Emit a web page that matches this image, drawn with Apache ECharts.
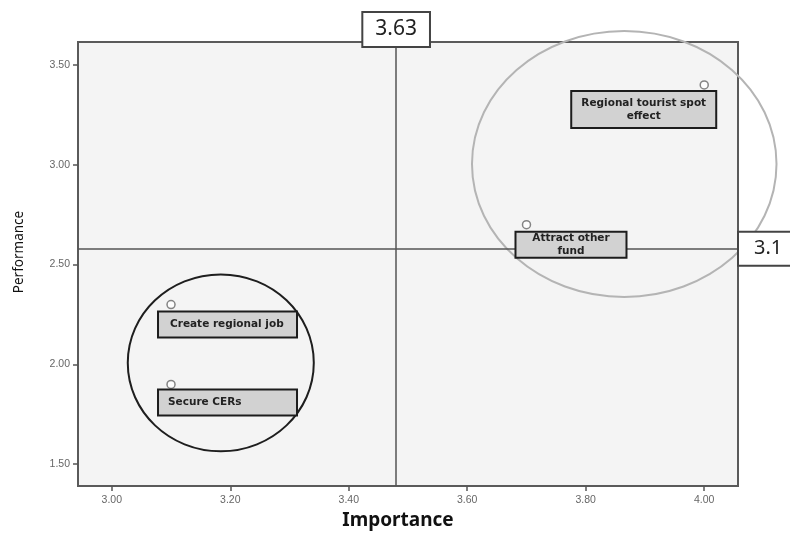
<!DOCTYPE html>
<html>
<head>
<meta charset="utf-8">
<script src="https://cdn.jsdelivr.net/npm/echarts@6/dist/echarts.min.js"></script>
<style>
html,body{margin:0;padding:0;background:#fff;}
#chart{width:790px;height:533px;}
</style>
</head>
<body>
<div id="chart"></div>
<script>
// ---- data ----
const itemNames = ['Regional tourist spot\neffect', 'Attract other\nfund', 'Create regional job', 'Secure CERs'];
const importance = [4.00, 3.70, 3.10, 3.10];
const performance = [3.40, 2.70, 2.30, 1.90];
const xTicks = [3.00, 3.20, 3.40, 3.60, 3.80, 4.00];
const yTicks = [1.50, 2.00, 2.50, 3.00, 3.50];
const meanImportance = 3.482;
const meanImportanceLabel = '3.63';
const meanPerformance = 2.583;
const meanPerformanceLabel = '3.1';
// clusters: center x, center y, radius x, radius y
const clusterLow = [3.184, 2.008, 0.157, 0.443];
const clusterHigh = [3.865, 3.004, 0.257, 0.666];

// ---- styles (pixel offsets of label boxes relative to the point) ----
const boxStyles = [
  {dx: -133, dy: 6, w: 145, h: 37, align: 'center'},
  {dx: -11, dy: 7, w: 111, h: 26, align: 'center'},
  {dx: -13, dy: 7, w: 139, h: 26, align: 'left', tx: 12},
  {dx: -13, dy: 5, w: 139, h: 26, align: 'left', tx: 10}
];

const pts = importance.map((v, i) => [v, performance[i]]);

const chart = echarts.init(document.getElementById('chart'));
chart.setOption({
  animation: false,
  backgroundColor: '#ffffff',
  grid: {
    left: 78, top: 42, right: 52, bottom: 47,
    show: true, backgroundColor: '#f4f4f4',
    borderColor: '#5a5a5a', borderWidth: 2,
    containLabel: false, outerBoundsMode: 'none'
  },
  xAxis: {
    type: 'value', min: 2.943, max: 4.057,
    name: 'Importance', nameLocation: 'middle', nameGap: 24,
    nameTextStyle: {fontFamily: 'Noto Sans', fontWeight: 'bold', fontSize: 19, color: '#111', padding: [0, 20, 0, 0]},
    axisLine: {show: false},
    splitLine: {show: false},
    axisTick: {show: true, customValues: xTicks, length: 5, lineStyle: {color: '#555', width: 1.5}},
    axisLabel: {customValues: xTicks, formatter: v => v.toFixed(2), color: '#666', fontSize: 10.5, fontFamily: 'Liberation Sans', margin: 9}
  },
  yAxis: {
    type: 'value', min: 1.391, max: 3.615,
    name: 'Performance', nameLocation: 'middle', nameGap: 52,
    nameTextStyle: {fontFamily: 'Noto Sans', fontSize: 13.5, color: '#111', padding: [0, 0, 0, 24]},
    axisLine: {show: false},
    splitLine: {show: false},
    axisTick: {show: true, customValues: yTicks, length: 5, lineStyle: {color: '#555', width: 1.5}},
    axisLabel: {customValues: yTicks, formatter: v => v.toFixed(2), color: '#666', fontSize: 10.5, fontFamily: 'Liberation Sans', margin: 8}
  },
  series: [
    {
      type: 'custom',
      silent: true,
      z: 3,
      data: [clusterLow, clusterHigh],
      encode: {x: 0, y: 1},
      renderItem: function (params, api) {
        const c = api.coord([api.value(0), api.value(1)]);
        const s = api.size([api.value(2), api.value(3)]);
        const dark = params.dataIndex === 0;
        return {
          type: 'ellipse',
          shape: {cx: c[0], cy: c[1], rx: s[0], ry: s[1]},
          style: {fill: 'none', stroke: dark ? '#1e1e1e' : '#b4b4b4', lineWidth: 2}
        };
      }
    },
    {
      type: 'scatter',
      z: 4,
      data: pts,
      symbol: 'circle',
      symbolSize: 8,
      itemStyle: {color: '#ffffff', borderColor: '#666', borderWidth: 1.5},
      markLine: {
        silent: true,
        symbol: 'none',
        animation: false,
        lineStyle: {color: '#555', width: 1.5, type: 'solid'},
        data: [
          {xAxis: meanImportance, label: {
            show: true, position: 'end', formatter: meanImportanceLabel, distance: -4,
            fontFamily: 'Noto Sans', fontSize: 21, color: '#222',
            backgroundColor: '#fff', borderColor: '#444', borderWidth: 2,
            padding: [6, 12, 6, 12]
          }},
          {yAxis: meanPerformance, label: {
            show: true, position: 'end', formatter: meanPerformanceLabel, distance: 1,
            fontFamily: 'Noto Sans', fontSize: 20, color: '#222',
            backgroundColor: '#fff', borderColor: '#444', borderWidth: 2,
            padding: [7, 12, 5, 15]
          }}
        ]
      }
    },
    {
      type: 'custom',
      silent: true,
      z: 6,
      data: pts,
      encode: {x: 0, y: 1},
      renderItem: function (params, api) {
        const p = api.coord([api.value(0), api.value(1)]);
        const b = boxStyles[params.dataIndex];
        const x = p[0] + b.dx, y = p[1] + b.dy;
        return {
          type: 'group',
          children: [
            {type: 'rect', shape: {x: x, y: y, width: b.w, height: b.h},
             style: {fill: '#d2d2d2', stroke: '#1c1c1c', lineWidth: 2}},
            {type: 'text', style: {
              text: itemNames[params.dataIndex],
              x: b.align === 'center' ? x + b.w / 2 : x + b.tx,
              y: y + b.h / 2,
              align: b.align, verticalAlign: 'middle',
              fontFamily: 'DejaVu Sans', fontWeight: 'bold', fontSize: 10.5,
              lineHeight: 13, fill: '#222'
            }}
          ]
        };
      }
    }
  ]
});
</script>
</body>
</html>
